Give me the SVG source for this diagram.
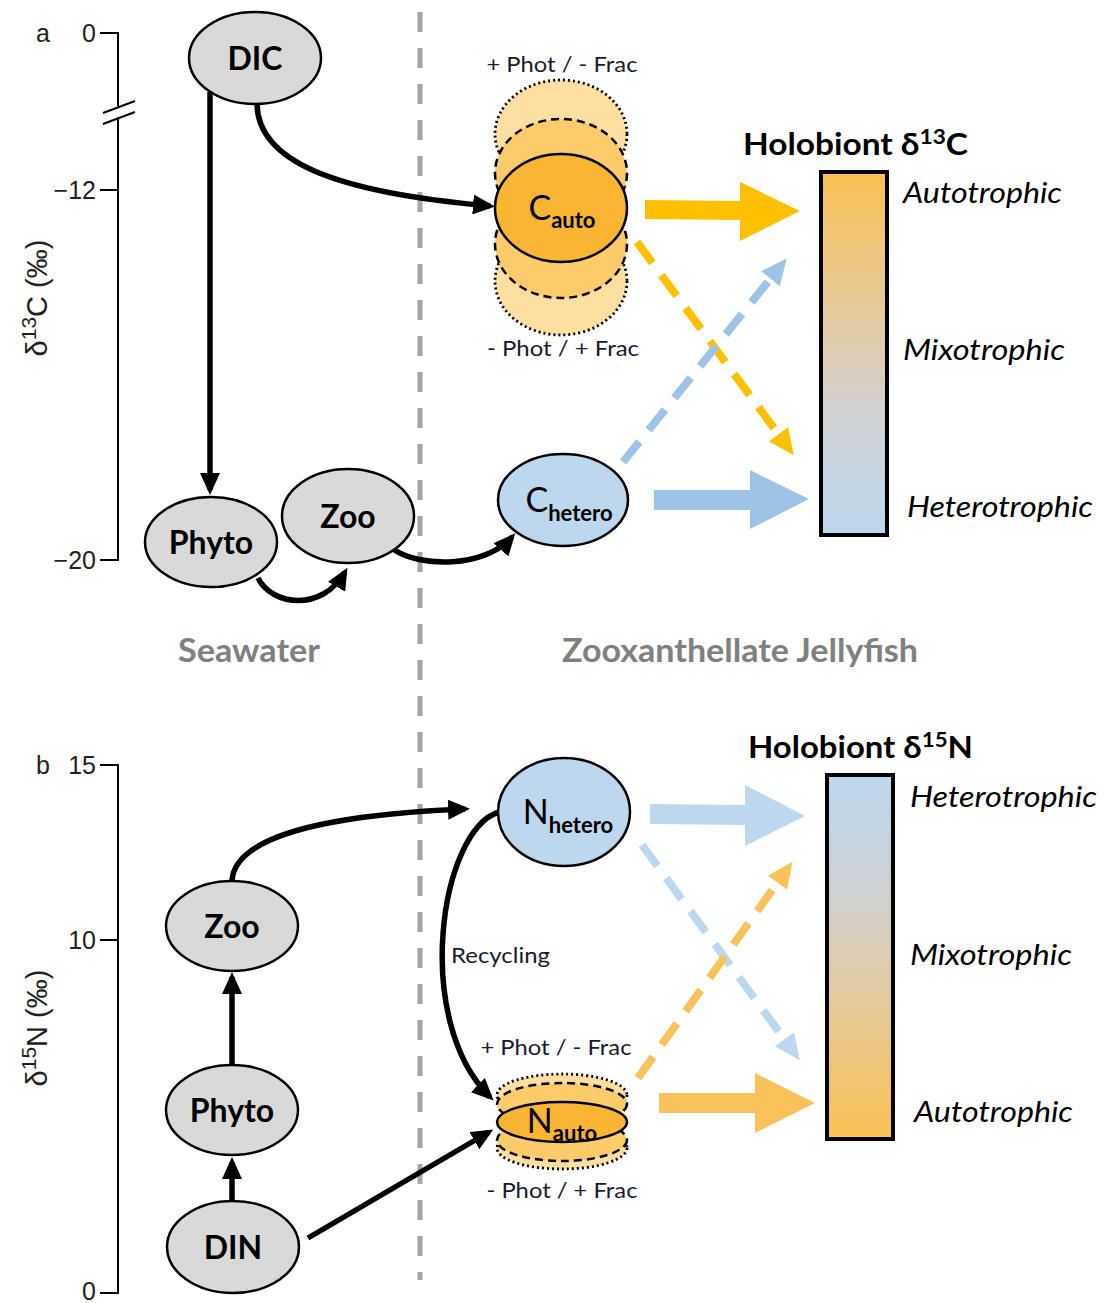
<svg xmlns="http://www.w3.org/2000/svg" width="1104" height="1303" viewBox="0 0 1104 1303">
<style>
.axis{stroke:#000;stroke-width:2;fill:none}
.ax{font-family:"Liberation Sans",Arial,sans-serif;font-size:25px;fill:#231F20}
.axl{font-family:"Liberation Sans",Arial,sans-serif;font-size:29px;fill:#231F20;text-anchor:middle}
.node{stroke:#000;stroke-width:2.5}
.gray{fill:#D9D9D9}
.blue{fill:#BDD7EE}
.lbl{font-family:Lato,"Open Sans",sans-serif;font-weight:bold;font-size:32px;fill:#000;text-anchor:middle}
.sym{font-family:Lato,"Open Sans",sans-serif;font-size:34px;fill:#000;text-anchor:middle}
.sub{font-weight:bold;font-size:22px}
.dot{stroke:#000;stroke-width:2.8;stroke-dasharray:2 3;fill:#FEDFA2}
.dsh{stroke:#000;stroke-width:2.5;stroke-dasharray:8 5;fill:#FCCB6A}
.sol{stroke:#000;stroke-width:2.5;fill:#FAB533}
.cond{font-family:Lato,"Open Sans",sans-serif;font-size:22px;fill:#1a1a2e}
.conn{fill:none;stroke:#000;stroke-width:5.5;marker-end:url(#ah)}
.dash{fill:none;stroke-width:8;stroke-dasharray:26 15}
.hl{font-family:Lato,"Open Sans",sans-serif;font-weight:bold;font-size:31px;fill:#000}
.it{font-family:Lato,"Open Sans",sans-serif;font-style:italic;font-size:28px;fill:#000}
.zone{font-family:Lato,"Open Sans",sans-serif;font-weight:bold;font-size:32px;fill:#808080}
</style>
<defs>
<marker id="ah" markerUnits="userSpaceOnUse" viewBox="0 0 22 20" markerWidth="22" markerHeight="20" refX="17" refY="10" orient="auto"><path d="M0,0 L22,10 L0,20 z" fill="#000"/></marker>
<marker id="ahO" markerUnits="userSpaceOnUse" viewBox="0 0 26 24" markerWidth="26" markerHeight="24" refX="1" refY="12" orient="auto"><path d="M0,0 L26,12 L0,24 z" fill="#FFC000"/></marker>
<marker id="ahB" markerUnits="userSpaceOnUse" viewBox="0 0 26 24" markerWidth="26" markerHeight="24" refX="1" refY="12" orient="auto"><path d="M0,0 L26,12 L0,24 z" fill="#9DC3E6"/></marker>
<marker id="ahOL" markerUnits="userSpaceOnUse" viewBox="0 0 26 24" markerWidth="26" markerHeight="24" refX="1" refY="12" orient="auto"><path d="M0,0 L26,12 L0,24 z" fill="#F9C25A"/></marker>
<marker id="ahBL" markerUnits="userSpaceOnUse" viewBox="0 0 26 24" markerWidth="26" markerHeight="24" refX="1" refY="12" orient="auto"><path d="M0,0 L26,12 L0,24 z" fill="#BDD7EE"/></marker>
<linearGradient id="gC" x1="0" y1="0" x2="0" y2="1">
<stop offset="0" stop-color="#FAC152"/><stop offset="0.5" stop-color="#DECDB4"/><stop offset="0.68" stop-color="#CFD2D4"/><stop offset="1" stop-color="#BDD7EE"/>
</linearGradient>
<linearGradient id="gN" x1="0" y1="0" x2="0" y2="1">
<stop offset="0" stop-color="#BDD7EE"/><stop offset="0.32" stop-color="#CFD2D4"/><stop offset="0.5" stop-color="#DECDB4"/><stop offset="1" stop-color="#FAC152"/>
</linearGradient>
</defs>

<!-- divider -->
<line x1="420" y1="12" x2="420" y2="1280" stroke="#A6A6A6" stroke-width="5" stroke-dasharray="20 16"/>

<!-- axis a -->
<g id="axis-a">
<path class="axis" d="M100,33 H118 V106 M118,117 V560 H100 M100,190 H118"/>
<line class="axis" x1="103" y1="113" x2="135" y2="101"/>
<line class="axis" x1="103" y1="124" x2="135" y2="112"/>
<text class="ax" x="36" y="42">a</text>
<text class="ax" x="96" y="42" text-anchor="end">0</text>
<text class="ax" x="96" y="199" text-anchor="end">−12</text>
<text class="ax" x="96" y="569" text-anchor="end">−20</text>
<text class="axl" transform="translate(47,298) rotate(-90)">δ<tspan font-size="21" dy="-11">13</tspan><tspan dy="11">C (‰)</tspan></text>
</g>

<!-- axis b -->
<g id="axis-b">
<path class="axis" d="M100,765 H118 V1293 H100 M100,940 H118"/>
<text class="ax" x="36" y="774">b</text>
<text class="ax" x="96" y="774" text-anchor="end">15</text>
<text class="ax" x="96" y="949" text-anchor="end">10</text>
<text class="ax" x="96" y="1300" text-anchor="end">0</text>
<text class="axl" transform="translate(47,1028) rotate(-90)">δ<tspan font-size="21" dy="-11">15</tspan><tspan dy="11">N (‰)</tspan></text>
</g>

<!-- zone labels -->
<text class="zone" x="178" y="662" textLength="142" lengthAdjust="spacingAndGlyphs">Seawater</text>
<text class="zone" x="562" y="662" textLength="356" lengthAdjust="spacingAndGlyphs">Zooxanthellate Jellyfish</text>

<!-- connectors -->
<g id="connectors">
<path class="conn" d="M210,92 L210,490"/>
<path class="conn" d="M257,104 C258,160 330,192 490,206"/>
<path class="conn" d="M258,578 C272,606 322,612 345,572"/>
<path class="conn" d="M393,549 C420,568 485,568 512,537"/>
<path class="conn" d="M232,881 C234,838 320,815 465,809"/>
<path class="conn" d="M499,812 C440,830 412,1020 490,1097"/>
<path class="conn" d="M308,1238 L489,1132"/>
<path class="conn" d="M232,1201 L232,1162"/>
<path class="conn" d="M232,1065 L232,977"/>
<polygon fill="#FFC000" points="645,200 740,201 740,182 800,211 740,241 740,220 645,219"/>
<polygon fill="#9DC3E6" points="654,490 750,490 750,470 809,499 750,529 750,510 654,510"/>
<polygon fill="#BDD7EE" points="650,804 745,805 745,785 805,816 745,846 745,825 650,824"/>
<polygon fill="#F9C25A" points="659,1093 755,1093 755,1073 815,1103 755,1133 755,1113 659,1113"/>
<path class="dash" stroke="#FFC000" marker-end="url(#ahO)" d="M637,242 L779,435"/>
<path class="dash" stroke="#9DC3E6" marker-end="url(#ahB)" d="M623,462 L771,278"/>
<path class="dash" stroke="#BDD7EE" marker-end="url(#ahBL)" d="M642,845 L785,1040"/>
<path class="dash" stroke="#F9C25A" marker-end="url(#ahOL)" d="M638,1078 L778,882"/>
</g>

<!-- top panel nodes -->
<g id="DIC"><ellipse class="node gray" cx="255" cy="58" rx="66" ry="46"/><text class="lbl" x="255" y="70">DIC</text></g>
<g id="Phyto-C"><ellipse class="node gray" cx="211" cy="542" rx="66" ry="45"/><text class="lbl" x="211" y="554">Phyto</text></g>
<g id="Zoo-C"><ellipse class="node gray" cx="348" cy="516" rx="66" ry="47"/><text class="lbl" x="348" y="528">Zoo</text></g>
<g id="C-auto">
<text class="cond" x="562" y="72" text-anchor="middle" textLength="151" lengthAdjust="spacingAndGlyphs">+ Phot / - Frac</text>
<ellipse class="dot" cx="561" cy="134" rx="66" ry="54"/>
<ellipse class="dot" cx="561" cy="281" rx="66" ry="54"/>
<ellipse class="dsh" cx="561" cy="173" rx="66" ry="54"/>
<ellipse class="dsh" cx="561" cy="244" rx="66" ry="54"/>
<ellipse class="sol" cx="561" cy="208" rx="66" ry="54"/>
<text class="sym" x="562" y="220">C<tspan class="sub" dy="8">auto</tspan></text>
<text class="cond" x="563" y="356" text-anchor="middle" textLength="152" lengthAdjust="spacingAndGlyphs">- Phot / + Frac</text>
</g>
<g id="C-hetero"><ellipse class="node blue" cx="563" cy="500" rx="65" ry="46"/><text class="sym" x="569" y="512">C<tspan class="sub" dy="9">hetero</tspan></text></g>

<g id="bar-C">
<text class="hl" x="743" y="155" textLength="225" lengthAdjust="spacingAndGlyphs">Holobiont δ<tspan font-size="21" dy="-11">13</tspan><tspan dy="11">C</tspan></text>
<rect x="821" y="172" width="66" height="363" fill="url(#gC)" stroke="#000" stroke-width="4"/>
<text class="it" x="903" y="203" textLength="159" lengthAdjust="spacingAndGlyphs">Autotrophic</text>
<text class="it" x="903" y="360" textLength="162" lengthAdjust="spacingAndGlyphs">Mixotrophic</text>
<text class="it" x="907" y="517" textLength="186" lengthAdjust="spacingAndGlyphs">Heterotrophic</text>
</g>

<!-- bottom panel nodes -->
<g id="Zoo-N"><ellipse class="node gray" cx="232" cy="926" rx="66" ry="45"/><text class="lbl" x="232" y="938">Zoo</text></g>
<g id="Phyto-N"><ellipse class="node gray" cx="232" cy="1110" rx="66" ry="45"/><text class="lbl" x="232" y="1122">Phyto</text></g>
<g id="DIN"><ellipse class="node gray" cx="233" cy="1247" rx="66" ry="46"/><text class="lbl" x="233" y="1259">DIN</text></g>
<g id="N-hetero"><ellipse class="node blue" cx="564" cy="812" rx="66" ry="54"/><text class="sym" x="568" y="824">N<tspan class="sub" dy="9">hetero</tspan></text></g>
<text class="cond" x="451" y="963" textLength="99" lengthAdjust="spacingAndGlyphs">Recycling</text>
<g id="N-auto">
<text class="cond" x="556" y="1055" text-anchor="middle" textLength="151" lengthAdjust="spacingAndGlyphs">+ Phot / - Frac</text>
<ellipse class="dot" cx="562" cy="1095" rx="65" ry="21"/>
<ellipse class="dot" cx="562" cy="1148" rx="65" ry="21"/>
<ellipse class="dsh" cx="562" cy="1104" rx="65" ry="21"/>
<ellipse class="dsh" cx="562" cy="1140" rx="65" ry="21"/>
<ellipse class="sol" cx="562" cy="1122" rx="65" ry="20"/>
<text class="sym" x="562" y="1133">N<tspan class="sub" dy="8">auto</tspan></text>
<text class="cond" x="562" y="1198" text-anchor="middle" textLength="151" lengthAdjust="spacingAndGlyphs">- Phot / + Frac</text>
</g>

<g id="bar-N">
<text class="hl" x="748" y="758" textLength="225" lengthAdjust="spacingAndGlyphs">Holobiont δ<tspan font-size="21" dy="-11">15</tspan><tspan dy="11">N</tspan></text>
<rect x="827" y="775" width="66" height="364" fill="url(#gN)" stroke="#000" stroke-width="4"/>
<text class="it" x="910" y="807" textLength="187" lengthAdjust="spacingAndGlyphs">Heterotrophic</text>
<text class="it" x="910" y="965" textLength="162" lengthAdjust="spacingAndGlyphs">Mixotrophic</text>
<text class="it" x="914" y="1122" textLength="159" lengthAdjust="spacingAndGlyphs">Autotrophic</text>
</g>
</svg>
